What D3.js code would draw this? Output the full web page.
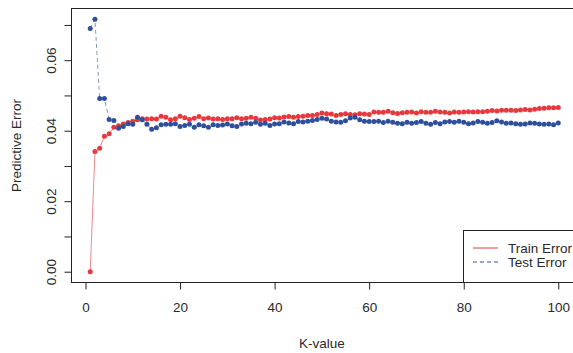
<!DOCTYPE html>
<html>
<head>
<meta charset="utf-8">
<script src="https://cdn.jsdelivr.net/npm/d3@7"></script>
<style>
  html, body { margin: 0; padding: 0; background: #fff; }
  svg { display: block; font-family: "Liberation Sans", Arial, sans-serif; }
</style>
</head>
<body>
<svg id="chart" width="573" height="353"></svg>
<script>
// ---- data ----
const kValues = d3.range(1, 101);
const trainError = [
  0.0000, 0.0341, 0.0350, 0.0384, 0.0391, 0.0410, 0.0414, 0.0419, 0.0423, 0.0427,
  0.0431, 0.0434, 0.0433, 0.0434, 0.0433, 0.0441, 0.0438, 0.0431, 0.0434, 0.0441,
  0.0437, 0.0432, 0.0435, 0.0440, 0.0434, 0.0436, 0.0433, 0.0434, 0.0432, 0.0434,
  0.0434, 0.0437, 0.0434, 0.0435, 0.0438, 0.0435, 0.0430, 0.0432, 0.0433, 0.0437,
  0.0436, 0.0439, 0.0440, 0.0438, 0.0440, 0.0441, 0.0443, 0.0443, 0.0446, 0.0450,
  0.0448, 0.0447, 0.0443, 0.0446, 0.0448, 0.0446, 0.0445, 0.0448, 0.0447, 0.0446,
  0.0453, 0.0452, 0.0452, 0.0455, 0.0451, 0.0449, 0.0451, 0.0452, 0.0453, 0.0450,
  0.0454, 0.0452, 0.0452, 0.0455, 0.0453, 0.0452, 0.0450, 0.0453, 0.0452, 0.0453,
  0.0454, 0.0453, 0.0454, 0.0454, 0.0455, 0.0457, 0.0456, 0.0458, 0.0458, 0.0458,
  0.0457, 0.0459, 0.0460, 0.0459, 0.0461, 0.0463, 0.0464, 0.0465, 0.0465, 0.0466
];
const testError = [
  0.0690, 0.0716, 0.0491, 0.0491, 0.0432, 0.0429, 0.0407, 0.0412, 0.0420, 0.0418,
  0.0438, 0.0431, 0.0418, 0.0404, 0.0408, 0.0417, 0.0418, 0.0418, 0.0420, 0.0412,
  0.0415, 0.0418, 0.0410, 0.0417, 0.0414, 0.0410, 0.0417, 0.0415, 0.0416, 0.0419,
  0.0414, 0.0412, 0.0419, 0.0421, 0.0420, 0.0424, 0.0418, 0.0421, 0.0415, 0.0419,
  0.0420, 0.0425, 0.0422, 0.0420, 0.0426, 0.0425, 0.0427, 0.0429, 0.0432, 0.0435,
  0.0433, 0.0427, 0.0425, 0.0424, 0.0428, 0.0436, 0.0438, 0.0431, 0.0427, 0.0426,
  0.0426, 0.0427, 0.0423, 0.0427, 0.0424, 0.0421, 0.0420, 0.0424, 0.0421, 0.0423,
  0.0426, 0.0421, 0.0418, 0.0423, 0.0420, 0.0425, 0.0426, 0.0424, 0.0427, 0.0424,
  0.0420, 0.0422, 0.0426, 0.0424, 0.0421, 0.0423, 0.0428, 0.0425, 0.0421, 0.0422,
  0.0420, 0.0418, 0.0419, 0.0422, 0.0421, 0.0419, 0.0418, 0.0419, 0.0417, 0.0422
];
const xTicks = [0, 20, 40, 60, 80, 100];
const yTicks = [0, 0.01, 0.02, 0.03, 0.04, 0.05, 0.06, 0.07];
const yTickLabels = ["0.00", "", "0.02", "", "0.04", "", "0.06", ""];
const seriesNames = ["Train Error", "Test Error"];
const seriesColors = ["#e8383d", "#2e4f9c"];

// ---- layout ----
const svg = d3.select("#chart");
const pLeft = 71.5, pRight = 577, pTop = 8.5, pBottom = 282.5;
const x = d3.scaleLinear().domain([-2.96, 103.96]).range([pLeft, pRight]);
const y = d3.scaleLinear().domain([-0.00306, 0.07466]).range([pBottom, pTop]);
const textColor = "#2a2a2a";

// lines
const trainPts = kValues.map((k, i) => [k, trainError[i]]);
const testPts = kValues.map((k, i) => [k, testError[i]]);
const line = d3.line().x(d => x(d[0])).y(d => y(d[1]));

svg.append("path").datum(trainPts).attr("d", line)
  .attr("fill", "none").attr("stroke", seriesColors[0]).attr("stroke-width", 0.8)
  .attr("stroke-opacity", 0.75);
svg.append("path").datum(testPts).attr("d", line)
  .attr("fill", "none").attr("stroke", seriesColors[1]).attr("stroke-width", 0.8)
  .attr("stroke-opacity", 0.75)
  .attr("stroke-dasharray", "4,3");

svg.append("g").selectAll("circle").data(trainPts).join("circle")
  .attr("cx", d => x(d[0])).attr("cy", d => y(d[1])).attr("r", 2.5)
  .attr("fill", seriesColors[0]);
svg.append("g").selectAll("circle").data(testPts).join("circle")
  .attr("cx", d => x(d[0])).attr("cy", d => y(d[1])).attr("r", 2.5)
  .attr("fill", seriesColors[1]);

// box
svg.append("rect").attr("x", pLeft).attr("y", pTop)
  .attr("width", pRight - pLeft).attr("height", pBottom - pTop)
  .attr("fill", "none").attr("stroke", "#222").attr("stroke-width", 1);

// x axis
const xAxis = d3.axisBottom(x).tickValues(xTicks).tickSize(7).tickPadding(13)
  .tickFormat(d3.format("d"));
const gx = svg.append("g").attr("transform", `translate(0,${pBottom})`).call(xAxis);
gx.select(".domain").attr("d", `M${x(0)},0H${x(100)}`).attr("stroke", "#222");
gx.selectAll(".tick line").attr("stroke", "#222");
gx.selectAll("text").attr("font-size", 13.5).attr("fill", textColor)
  .attr("font-family", "Liberation Sans, Arial, sans-serif");

// y axis
const yAxis = d3.axisLeft(y).tickValues(yTicks).tickSize(7)
  .tickFormat((d, i) => yTickLabels[i]);
const gy = svg.append("g").attr("transform", `translate(${pLeft},0)`).call(yAxis);
gy.select(".domain").attr("d", `M0,${y(0)}V${y(0.07)}`).attr("stroke", "#222");
gy.selectAll(".tick line").attr("stroke", "#222");
gy.selectAll("text")
  .attr("font-size", 13.5).attr("fill", textColor)
  .attr("font-family", "Liberation Sans, Arial, sans-serif")
  .attr("x", null).attr("dy", null)
  .attr("text-anchor", "middle")
  .attr("transform", "translate(-16,0) rotate(-90)");

// axis titles
svg.append("text").attr("x", (x(0) + x(100)) / 2).attr("y", 348)
  .attr("text-anchor", "middle").attr("font-size", 13.5).attr("fill", textColor)
  .text("K-value");
svg.append("text")
  .attr("transform", `translate(21,${(pTop + pBottom) / 2}) rotate(-90)`)
  .attr("text-anchor", "middle").attr("font-size", 13.5).attr("fill", textColor)
  .text("Predictive Error");

// legend
const lg = svg.append("g");
lg.append("rect").attr("x", 463.5).attr("y", 230.5).attr("width", 120).attr("height", 52)
  .attr("fill", "#fff").attr("stroke", "#222").attr("stroke-width", 1);
seriesNames.forEach((name, i) => {
  const yy = 248 + i * 14;
  lg.append("line").attr("x1", 473).attr("x2", 498).attr("y1", yy).attr("y2", yy)
    .attr("stroke", seriesColors[i]).attr("stroke-width", 1)
    .attr("stroke-dasharray", i === 1 ? "4,3" : null);
  lg.append("text").attr("x", 508).attr("y", yy + 4.5)
    .attr("font-size", 13.5).attr("fill", textColor).text(name);
});
</script>
</body>
</html>
